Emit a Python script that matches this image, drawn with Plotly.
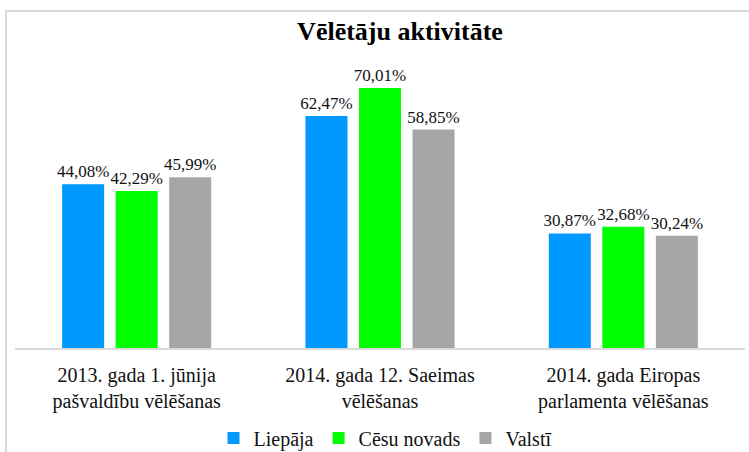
import plotly.graph_objects as go

categories = ["2013. gada 1. jūnija<br>pašvaldību vēlēšanas",
              "2014. gada 12. Saeimas<br>vēlēšanas",
              "2014. gada Eiropas<br>parlamenta vēlēšanas"]
series_names = ["Liepāja", "Cēsu novads", "Valstī"]
liepaja = [44.08, 62.47, 30.87]
cesu = [42.29, 70.01, 32.68]
valsti = [45.99, 58.85, 30.24]
colors = ["#0099FF", "#00FF00", "#A6A6A6"]

SERIF = "Times New Roman, Liberation Serif, serif"

W, H = 749, 452
ml, mr, mt, mb = 15, 4, 51, 104
pw, ph = W - ml - mr, H - mt - mb

fig = go.Figure()
for name, vals, col in zip(series_names, [liepaja, cesu, valsti], colors):
    fig.add_trace(go.Bar(
        x=categories, y=vals, name=name, marker=dict(color=col, line=dict(width=0)),
        texttemplate="%{y:.2f}%", textposition="outside",
        textfont=dict(family=SERIF, size=17, color="#111111"),
        cliponaxis=False, constraintext="none",
    ))

def px_x(p):
    return (p - ml) / pw

def px_y(p):
    return (H - mb - p) / ph

fig.update_layout(
    width=W, height=H,
    margin=dict(l=ml, r=mr, t=mt, b=mb, autoexpand=False),
    paper_bgcolor="white", plot_bgcolor="white",
    separators=",.",
    barmode="group", bargap=0.34, bargroupgap=0.215,
    title=dict(text="<b>Vēlētāju aktivitāte</b>", x=400 / W, xanchor="center",
               y=1 - 31 / H, yanchor="middle", yref="container",
               font=dict(family=SERIF, size=26, color="#000000")),
    font=dict(family=SERIF, color="#111111"),
    xaxis=dict(showgrid=False, showline=True, linecolor="#d9d9d9", linewidth=1.5,
               ticks="", tickangle=0, automargin=False, ticklabelstandoff=8,
               tickfont=dict(family=SERIF, size=20, color="#111111")),
    yaxis=dict(range=[0, 80], visible=False, showgrid=False, zeroline=False, automargin=False),
    legend=dict(orientation="h", x=px_x(385), xanchor="center",
                y=px_y(438), yanchor="middle",
                font=dict(family=SERIF, size=20, color="#111111"),
                itemwidth=30, tracegroupgap=0),
    shapes=[dict(type="rect", xref="paper", yref="paper",
                 x0=px_x(6), x1=px_x(770), y0=px_y(11), y1=px_y(480),
                 line=dict(color="#d9d9d9", width=2), fillcolor="rgba(0,0,0,0)", layer="below")],
)

fig.write_html("out.html", config={"displayModeBar": False},
               post_script="document.body.style.margin='0';")
